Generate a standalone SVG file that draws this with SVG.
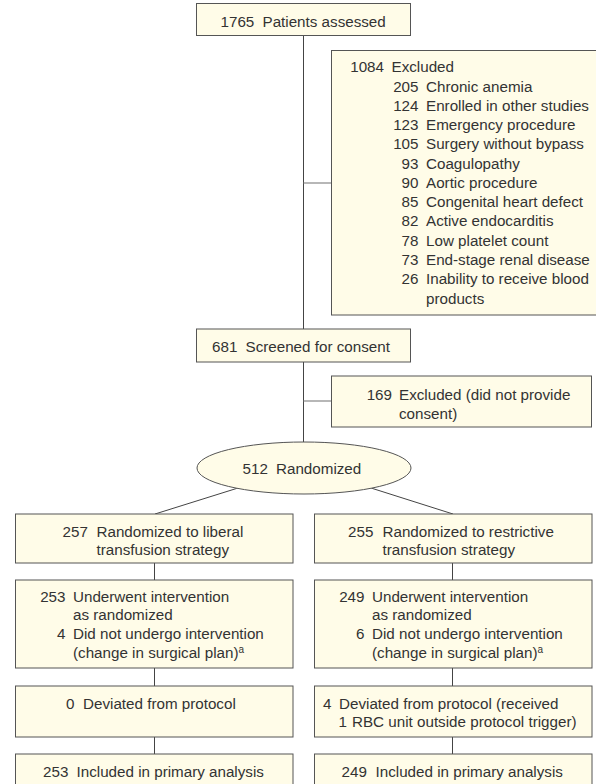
<svg xmlns="http://www.w3.org/2000/svg" width="596" height="784" viewBox="0 0 596 784">
<style>
.box{fill:#fffce8;stroke:#555;stroke-width:1}
.ln{fill:none;stroke:#444;stroke-width:1}
.br{fill:none;stroke:#888;stroke-width:1.2}
text{font-family:"Liberation Sans",Arial,sans-serif;font-size:15.2px;fill:#333}
.r{text-anchor:end}
</style>
<rect width="596" height="784" fill="#fff"/>
<g id="connectors">
<line class="ln" x1="303.5" y1="36" x2="303.5" y2="329"/>
<line class="br" x1="303.5" y1="183" x2="331.5" y2="183"/>
<line class="ln" x1="303.5" y1="362" x2="303.5" y2="442"/>
<line class="br" x1="303.5" y1="401" x2="331.5" y2="401"/>
<line class="ln" x1="238" y1="488" x2="155" y2="514"/>
<line class="ln" x1="371" y1="488" x2="453" y2="514"/>
<line class="ln" x1="154.5" y1="563" x2="154.5" y2="580"/>
<line class="ln" x1="154.5" y1="668" x2="154.5" y2="686"/>
<line class="ln" x1="154.5" y1="737" x2="154.5" y2="754"/>
<line class="ln" x1="452.5" y1="563" x2="452.5" y2="580"/>
<line class="ln" x1="452.5" y1="668" x2="452.5" y2="686"/>
<line class="ln" x1="452.5" y1="737" x2="452.5" y2="754"/>
</g>
<g id="assessed">
<rect class="box" x="196.5" y="3.5" width="214" height="32"/>
<text x="220.5" y="27">1765</text><text x="262.5" y="27">Patients assessed</text>
</g>
<g id="excluded1">
<rect class="box" x="331.5" y="50.5" width="270" height="264.5"/>
<text class="r" x="384" y="72.2">1084</text><text x="391.5" y="72.2">Excluded</text>
<text class="r" x="418.5" y="91.5">205</text><text x="426" y="91.5">Chronic anemia</text>
<text class="r" x="418.5" y="110.8">124</text><text x="426" y="110.8">Enrolled in other studies</text>
<text class="r" x="418.5" y="130.1">123</text><text x="426" y="130.1">Emergency procedure</text>
<text class="r" x="418.5" y="149.3">105</text><text x="426" y="149.3">Surgery without bypass</text>
<text class="r" x="418.5" y="168.6">93</text><text x="426" y="168.6">Coagulopathy</text>
<text class="r" x="418.5" y="187.9">90</text><text x="426" y="187.9">Aortic procedure</text>
<text class="r" x="418.5" y="207.2">85</text><text x="426" y="207.2">Congenital heart defect</text>
<text class="r" x="418.5" y="226.4">82</text><text x="426" y="226.4">Active endocarditis</text>
<text class="r" x="418.5" y="245.7">78</text><text x="426" y="245.7">Low platelet count</text>
<text class="r" x="418.5" y="265">73</text><text x="426" y="265">End-stage renal disease</text>
<text class="r" x="418.5" y="284.3">26</text><text x="426" y="284.3">Inability to receive blood</text>
<text x="426" y="303.6">products</text>
</g>
<g id="screened">
<rect class="box" x="196.5" y="329" width="214" height="33"/>
<text x="212" y="351.5">681</text><text x="245.5" y="351.5">Screened for consent</text>
</g>
<g id="excluded2">
<rect class="box" x="331.5" y="376" width="260" height="51"/>
<text class="r" x="392" y="399.5">169</text><text x="399" y="399.5">Excluded (did not provide</text>
<text x="399" y="418.5">consent)</text>
</g>
<g id="randomized">
<ellipse class="box" cx="304" cy="468" rx="107" ry="26"/>
<text x="242.5" y="473.5">512</text><text x="276" y="473.5">Randomized</text>
</g>
<g id="liberal">
<rect class="box" x="15.5" y="514" width="277.5" height="49"/>
<text x="62.5" y="536.5">257</text><text x="96.5" y="536.5">Randomized to liberal</text>
<text x="96.5" y="555">transfusion strategy</text>
</g>
<g id="restrictive">
<rect class="box" x="314.5" y="514" width="277.5" height="49"/>
<text x="348" y="536.5">255</text><text x="382.5" y="536.5">Randomized to restrictive</text>
<text x="382.5" y="555">transfusion strategy</text>
</g>
<g id="liberal-intervention">
<rect class="box" x="15.5" y="580" width="277.5" height="88"/>
<text class="r" x="65.5" y="601.7">253</text><text x="73" y="601.7">Underwent intervention</text>
<text x="73" y="620.4">as randomized</text>
<text class="r" x="65.5" y="639.1">4</text><text x="73" y="639.1">Did not undergo intervention</text>
<text x="73" y="657.8">(change in surgical plan)<tspan font-size="10" dy="-5">a</tspan></text>
</g>
<g id="restrictive-intervention">
<rect class="box" x="314.5" y="580" width="277.5" height="88"/>
<text class="r" x="364.5" y="601.7">249</text><text x="372" y="601.7">Underwent intervention</text>
<text x="372" y="620.4">as randomized</text>
<text class="r" x="364.5" y="639.1">6</text><text x="372" y="639.1">Did not undergo intervention</text>
<text x="372" y="657.8">(change in surgical plan)<tspan font-size="10" dy="-5">a</tspan></text>
</g>
<g id="liberal-deviated">
<rect class="box" x="15.5" y="686" width="277.5" height="51"/>
<text x="66" y="708.5">0</text><text x="83" y="708.5">Deviated from protocol</text>
</g>
<g id="restrictive-deviated">
<rect class="box" x="314.5" y="686" width="277.5" height="51"/>
<text x="323" y="708.5">4</text><text x="339" y="708.5">Deviated from protocol (received</text>
<text x="338.5" y="727">1</text><text x="352" y="727">RBC unit outside protocol trigger)</text>
</g>
<g id="liberal-analysis">
<rect class="box" x="15.5" y="754" width="277.5" height="50"/>
<text x="43" y="777">253</text><text x="76.5" y="777">Included in primary analysis</text>
</g>
<g id="restrictive-analysis">
<rect class="box" x="314.5" y="754" width="277.5" height="50"/>
<text x="341.5" y="777">249</text><text x="375.5" y="777">Included in primary analysis</text>
</g>
</svg>
